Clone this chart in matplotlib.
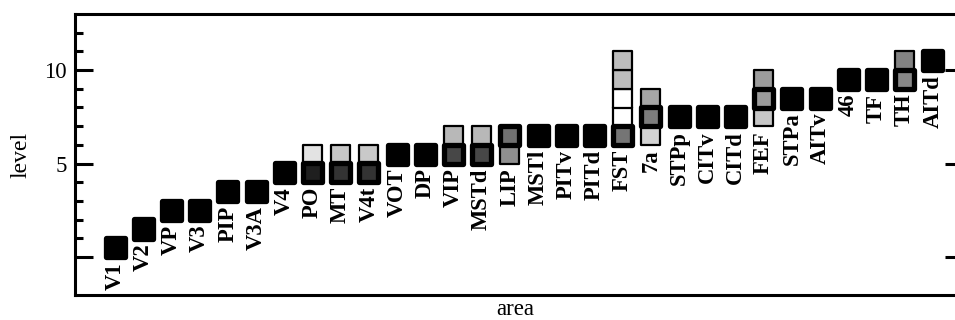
import matplotlib
matplotlib.use("Agg")
import matplotlib.pyplot as plt
from matplotlib.markers import MarkerStyle

# ---- data ----
areas = ["V1", "V2", "VP", "V3", "PIP", "V3A", "V4", "PO", "MT", "V4t",
         "VOT", "DP", "VIP", "MSTd", "LIP", "MSTl", "PITv", "PITd", "FST", "7a",
         "STPp", "CITv", "CITd", "FEF", "STPa", "AITv", "46", "TF", "TH", "AITd"]
# most probable level of each area (cell centre)
peak_level = [0.5, 1.5, 2.5, 2.5, 3.5, 3.5, 4.5, 4.5, 4.5, 4.5,
              5.5, 5.5, 5.5, 5.5, 6.5, 6.5, 6.5, 6.5, 6.5, 7.5,
              7.5, 7.5, 7.5, 8.5, 8.5, 8.5, 9.5, 9.5, 9.5, 10.5]
# grey value of the most probable cell (0 = black, 1 = white)
peak_grey = [0, 0, 0, 0, 0, 0, 0, 0.12, 0.20, 0.20,
             0, 0, 0.28, 0.28, 0.44, 0, 0, 0, 0.46, 0.49,
             0, 0, 0, 0.61, 0, 0, 0, 0, 0.53, 0]
# other (less probable) cells
extra_area = ["PO", "MT", "V4t", "VIP", "MSTd", "LIP",
              "FST", "FST", "FST", "FST", "7a", "7a", "FEF", "FEF", "TH"]
extra_level = [5.5, 5.5, 5.5, 6.5, 6.5, 5.5,
               7.5, 8.5, 9.5, 10.5, 6.5, 8.5, 7.5, 9.5, 10.5]
extra_grey = [0.89, 0.78, 0.79, 0.72, 0.72, 0.56,
              1.0, 1.0, 0.74, 0.74, 0.83, 0.65, 0.78, 0.61, 0.51]

ytick_vals = [0, 5, 10]
ytick_labels = ["", "5", "10"]
yminor_vals = [1, 2, 3, 4, 6, 7, 8, 9, 11, 12]

# ---- figure ----
W, H = 955, 320
fig = plt.figure(figsize=(W / 100, H / 100), dpi=100)
ax = fig.add_axes([75 / W, 1 - 295 / H, 888 / W, 281 / H])

serif = ["Liberation Serif", "DejaVu Serif"]
idx = {a: i for i, a in enumerate(areas)}
xs = list(range(len(areas)))

thin = MarkerStyle("s", joinstyle="miter")
thick = MarkerStyle("s", joinstyle="round")
msize = 13.7 ** 2

ex_x = [idx[a] for a in extra_area]
ax.scatter(ex_x, extra_level, s=msize, marker=thin,
           c=[(g, g, g) for g in extra_grey], edgecolors="black",
           linewidths=1.6, zorder=3)
ax.scatter(xs, peak_level, s=msize, marker=thick,
           c=[(g, g, g) for g in peak_grey], edgecolors="black",
           linewidths=3.8, zorder=4)

# labels below the lowest cell
for i, a in enumerate(areas):
    levels = [peak_level[i]] + [l for aa, l in zip(extra_area, extra_level) if aa == a]
    low = min(levels) - 0.5
    ax.annotate(a, xy=(i, low), xytext=(0, -3.5), textcoords="offset points",
                rotation=90, ha="center", va="top", fontsize=16.3,
                fontweight="bold", family=serif, zorder=5)

ax.set_xlim(-1.42, 30.07)
ax.set_ylim(-2.03, 13.0)

ax.set_xticks([])
ax.set_yticks(ytick_vals)
ax.set_yticklabels(ytick_labels, family=serif, fontsize=16.5)
ax.set_yticks(yminor_vals, minor=True)
ax.tick_params(axis="y", which="major", direction="in", length=13, width=2.2,
               left=True, right=True, pad=6)
ax.tick_params(axis="y", which="minor", direction="in", length=5.5, width=2.2,
               left=True, right=True)

for sp in ax.spines.values():
    sp.set_linewidth(2.2)

ax.set_ylabel("level", family=serif, fontsize=17)
ax.yaxis.set_label_coords((31 - 75) / 888, 0.5)
ax.set_xlabel("area", family=serif, fontsize=16.5)
ax.xaxis.set_label_coords((515 - 75) / 888, -0.014)

fig.savefig("out.png", dpi=100)
